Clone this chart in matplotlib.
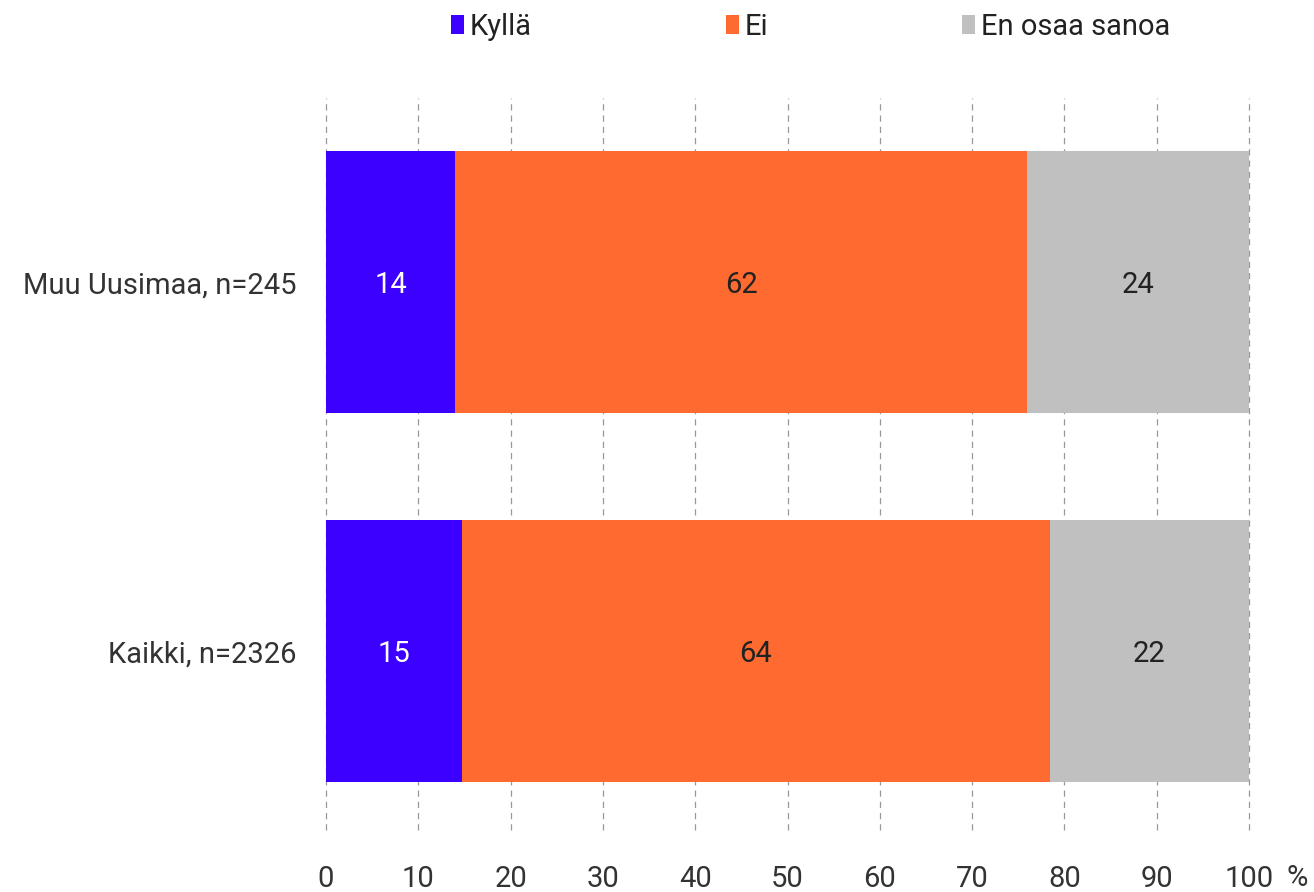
import numpy as np
import matplotlib.pyplot as plt

plt.rcParams['font.family'] = ['Roboto', 'DejaVu Sans']

# data
categories = ['Kaikki, n=2326', 'Muu Uusimaa, n=245']
series = ['Kyllä', 'Ei', 'En osaa sanoa']
kylla = [14.7, 14.0]
ei = [63.7, 62.0]
eos = [21.6, 24.0]
colors = ['#3B00FF', '#FF6A30', '#C0C0C0']
label_colors = ['white', '#222222', '#222222']
xticks = [0, 10, 20, 30, 40, 50, 60, 70, 80, 90, 100]

fs = 21

fig = plt.figure(figsize=(13.14, 8.92), dpi=100)
ax = fig.add_axes([326/1314, 1 - 830/892, (1249 - 326)/1314, 732/892])

y = np.arange(len(categories))
left = np.zeros(len(categories))
handles = []
for vals, name, c, lc in zip([kylla, ei, eos], series, colors, label_colors):
    vals = np.array(vals)
    bars = ax.barh(y, vals, left=left, height=0.71, color=c, label=name, zorder=2)
    handles.append(bars)
    for yi, v, l in zip(y, vals, left):
        ax.text(l + v/2, yi, f"{v:.0f}", ha='center', va='center_baseline',
                fontsize=fs, color=lc, zorder=3)
    left = left + vals

ax.set_xlim(0, 100)
ax.set_ylim(-0.485, 1.5)
ax.set_xticks(xticks)
ax.set_yticks(y)
ax.set_yticklabels(categories)
ax.tick_params(axis='both', length=0, labelsize=fs, labelcolor='#333333')
ax.tick_params(axis='x', pad=25)
ax.tick_params(axis='y', pad=21)

# dashed grid
ax.grid(axis='x', color='#999999', linestyle=(0, (5, 4)), linewidth=0.9, zorder=0)
for gl in ax.get_xgridlines():
    gl.set_clip_on(False)
for s in ax.spines.values():
    s.set_visible(False)

ax.text(1.052, -0.066, '%', transform=ax.transAxes, fontsize=fs, color='#333333',
        ha='center', va='center')

fig.legend(handles=handles, labels=series, loc='center', bbox_to_anchor=(0.617, 1 - 27/892),
           ncol=3, frameon=False, fontsize=fs, handlelength=0.45, handleheight=0.6,
           handletextpad=0.2, columnspacing=6.65, labelcolor='#222222')

fig.savefig('out.png')
